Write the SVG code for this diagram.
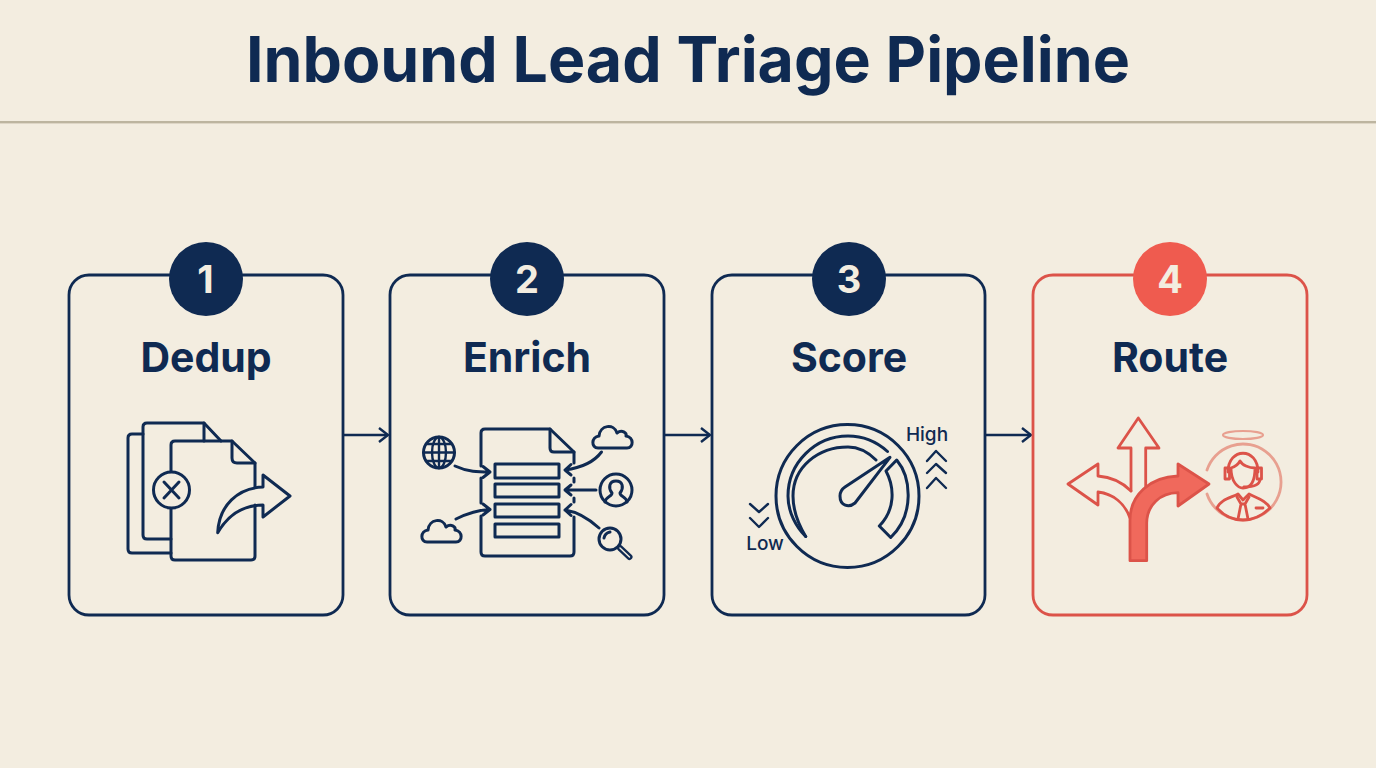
<svg xmlns="http://www.w3.org/2000/svg" width="1376" height="768" viewBox="0 0 1376 768">
<style>
.t{font-family:Inter,"Liberation Sans",sans-serif;font-weight:700;fill:#0F2A52;text-anchor:middle}
.lab{font-size:41px}
.num{font-size:38px;fill:#F3EDE0}
.small{font-family:Inter,"Liberation Sans",sans-serif;font-weight:500;font-size:19px;fill:#0F2A52;text-anchor:middle}
.card{fill:none;stroke:#0F2A52;stroke-width:2.8}
.ic{fill:none;stroke:#0F2A52;stroke-width:3;stroke-linecap:round;stroke-linejoin:round}
.thin{stroke-width:2.4}
.red{fill:none;stroke:#DC5349;stroke-width:2.8;stroke-linejoin:round;stroke-linecap:round}
.conn{fill:none;stroke:#0F2A52;stroke-width:2.4}
</style>
<defs>
<marker id="ah" viewBox="0 0 12 16" refX="11" refY="8" markerWidth="12" markerHeight="16" markerUnits="userSpaceOnUse" orient="auto"><path d="M2,1 L11,8 L2,15" fill="none" stroke="#0F2A52" stroke-width="2.4"/></marker>
<path id="cloud" d="M-15,12 C-22,12 -22,1 -14,0 C-13,-11 1,-13 4,-3 C9,-7 14,-3 13,0 C21,1 21,12 14,12 Z"/>
</defs>
<rect width="1376" height="768" fill="#F3EDE0"/>
<rect y="121" width="1376" height="2.4" fill="#BDB5A0"/>
<text id="title" class="t" x="688" y="82" font-size="62.6">Inbound Lead Triage Pipeline</text>

<g id="connectors">
<path class="conn" d="M343,435 H388" marker-end="url(#ah)"/>
<path class="conn" d="M664,435 H710" marker-end="url(#ah)"/>
<path class="conn" d="M985,435 H1031" marker-end="url(#ah)"/>
</g>

<g id="node-dedup">
<rect class="card" x="69" y="275" width="274" height="340" rx="20"/>
<circle cx="206" cy="279" r="37" fill="#0F2A52"/>
<text class="t num" x="205.500" y="293">1</text>
<text class="t lab" x="206" y="372">Dedup</text>
<path class="ic" d="M143,434 H132 Q128,434 128,438 V549 Q128,553 132,553 H171"/>
<path class="ic" d="M171,539 H147 Q143,539 143,535 V427 Q143,423 147,423 H204 L221,441"/>
<path class="ic" d="M204,423 V441"/>
<path class="ic" d="M171,471 V445 Q171,441 175,441 H232 L255,463 V487"/>
<path class="ic" d="M232,441 V458 Q232,463 237,463 H255"/>
<path class="ic" d="M171,509 V556 Q171,560 175,560 H251 Q255,560 255,556 V505"/>
<circle class="ic" cx="171.500" cy="490" r="18"/>
<path class="ic" d="M164,482 L179,498 M179,482 L164,498"/>
<path class="ic" d="M217.700,532.700 C219,505 238,488 263,487 V475 L290,496 L263,517 V505 C243,505 228,515 217.700,532.700 Z"/>
</g>

<g id="node-enrich">
<rect class="card" x="390" y="275" width="274" height="340" rx="20"/>
<circle cx="527" cy="279" r="37" fill="#0F2A52"/>
<text class="t num" x="527" y="293">2</text>
<text class="t lab" x="527" y="372">Enrich</text>
<path class="ic" d="M481,466 V433 Q481,429 485,429 H550 L574,452 V463"/>
<path class="ic" d="M550,429 V448 Q550,452 554,452 H574"/>
<path class="ic" d="M481,478 V503 M481,516 V552 Q481,556 485,556 H570 Q574,556 574,552 V517 M574,478 V482 M574,498 V502"/>
<rect class="ic" x="495" y="464" width="64" height="14"/>
<rect class="ic" x="495" y="484" width="64" height="13"/>
<rect class="ic" x="495" y="504" width="64" height="13"/>
<rect class="ic" x="495" y="524" width="64" height="13"/>
<circle class="ic" cx="439" cy="452.500" r="15.500"/>
<ellipse class="ic thin" cx="439" cy="452.500" rx="7" ry="15.500"/>
<path class="ic thin" d="M439,437 V468 M423.500,452.500 H454.500 M426,444 H452 M426,461 H452"/>
<use href="#cloud" class="ic" x="613" y="436"/>
<use href="#cloud" class="ic" x="442" y="530"/>
<circle class="ic" cx="616" cy="490" r="16"/>
<path class="ic" d="M605,502 C606,496 612,497 612,493 C608,488 609,481 616,481 C623,481 624,488 620,493 C620,497 626,496 627,502"/>
<circle class="ic" cx="610" cy="539" r="11"/>
<path class="ic" d="M604,538 Q605,533 610,532"/>
<path class="ic" d="M620,548 L629.500,557" style="stroke-width:6"/>
<path d="M620,548 L629.500,557" fill="none" stroke="#F3EDE0" stroke-width="1.5" stroke-linecap="round"/>
<path class="ic" d="M455,466 C468,472 478,472 490,472 M483,466.500 L490,472 L483,477.500"/>
<path class="ic" d="M456,519 C468,513 478,510 490,509.500 M483,504 L490,509.500 L483,515"/>
<path class="ic" d="M601.500,452 C594,462 580,468 565,470 M571,464.500 L565,470 L571,475"/>
<path class="ic" d="M596,490 H565 M571,485 L565,490 L571,495"/>
<path class="ic" d="M599,528 C588,518 578,512 565,510 M571,504.500 L565,510 L571,515.500"/>
</g>

<g id="node-score">
<rect class="card" x="712" y="275" width="273" height="340" rx="20"/>
<circle cx="849" cy="279" r="37" fill="#0F2A52"/>
<text class="t num" x="849" y="293">3</text>
<text class="t lab" x="849" y="372">Score</text>
<circle class="ic" cx="847.500" cy="496" r="71.500"/>
<path class="ic" d="M805.700,536.500 C796,527 788,512 788,496 C788,463 815,436 848,436 C863,436 877,442 887.500,451.500"/>
<path class="ic" d="M805.700,536.500 C800,527 793,512 793,496 C793,467 818,447 848,447 C858,447 868,452 876,460"/>
<path class="ic" d="M896.700,460 C911,477 915,514 890.700,537.500 L879.300,526 C895,510 895,488 886,471 Z"/>
<path class="ic" d="M890,457.300 L855,503 C849,508 840,506 840,496 C840,492 842,489 845,487 Z"/>
<text class="small" x="927" y="441">High</text>
<text class="small" x="765" y="550">Low</text>
<path class="ic thin" d="M927,461 L936,451 L946,461 M927,473 L936,464 L946,473 M927,488 L936,478 L946,488"/>
<path class="ic thin" d="M750,504 L759,512 L768,504 M750,518 L759,527 L768,518"/>
</g>

<g id="node-route">
<rect class="card" x="1033" y="275" width="274" height="340" rx="20" style="stroke:#DC5349"/>
<circle cx="1170" cy="279" r="37" fill="#EF5B4F"/>
<text class="t num" x="1170" y="293">4</text>
<text class="t lab" x="1170" y="372">Route</text>
<path class="red" d="M1131,491 V448 H1118 L1138.300,418 L1159,448 H1145.700 V490"/>
<path class="red" d="M1131,491 C1122,482 1112,477 1098,476 V464 L1068,484 L1098,505 V492 C1114,494 1125,504 1130,518"/>
<path class="red" d="M1130,560.700 H1146.700 V523 C1147,505 1160,493 1178,492.700 V506 L1209,484 L1178,464 V476 C1150,477 1130,495 1130,520 Z" style="fill:#F0695C"/>
<path class="red" style="stroke:#E8A090" d="M1207,470 A38,38 0 1 1 1207,494"/>
<ellipse class="red" style="stroke:#E8A090;stroke-width:2.200" cx="1243" cy="435" rx="20" ry="4"/>
<path class="red thin" d="M1231,468 C1231,482 1238,488 1243,488 C1250,488 1255,482 1255,468 C1249,468 1242,465 1240,461 C1238,465 1234,467 1231,468 Z"/>
<path class="red" d="M1228,472 C1228,447 1258,447 1258,472"/>
<path class="red" d="M1225,468 h4.500 v11 h-4.500 z M1257,468 h4.500 v11 h-4.500 z M1260,479 C1260,486 1252,487 1244,487"/>
<path class="red thin" d="M1217,508 C1220,500 1230,498 1238,494 L1243,500 L1249,494 C1256,498 1266,500 1270,508 C1262,516 1252,520 1243,520 C1234,520 1224,516 1217,508 Z"/>
<path class="red thin" d="M1237,497 L1241,504 L1238,519 M1249,497 L1245,504 L1248,519 M1241,504 H1245 M1256,508 H1263"/>
</g>
</svg>
